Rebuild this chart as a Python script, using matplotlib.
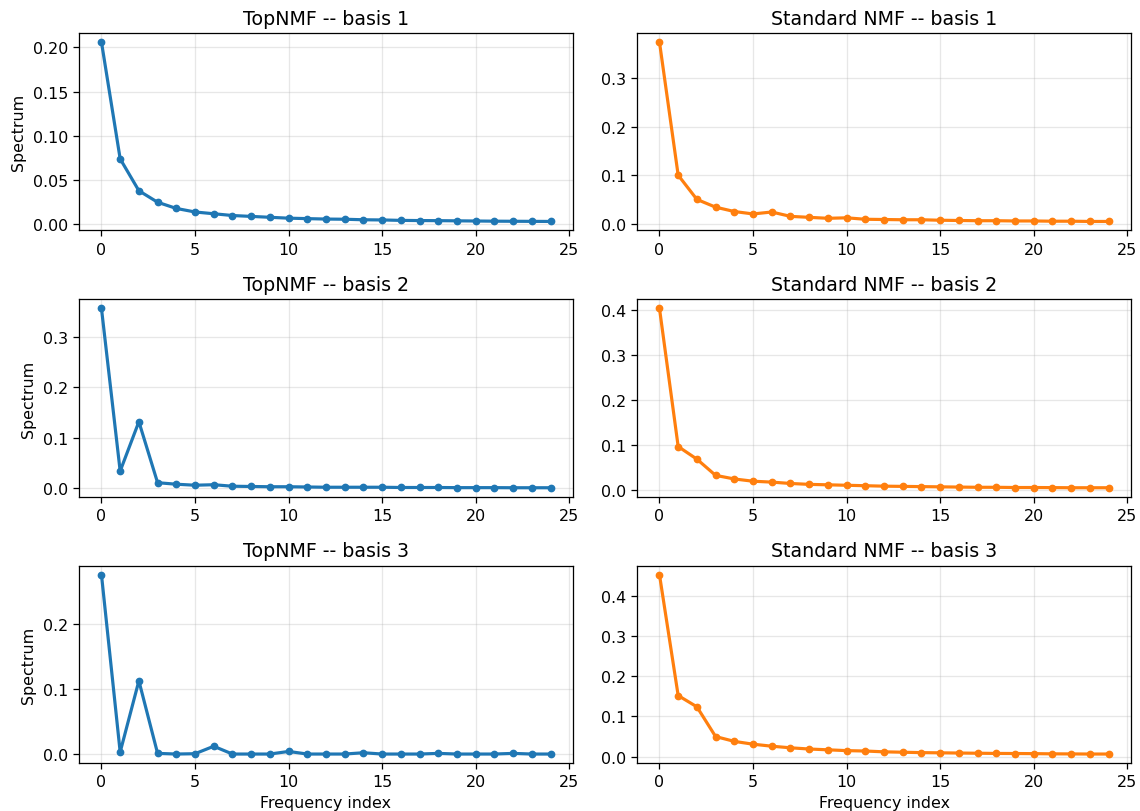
import matplotlib
matplotlib.use("Agg")
import matplotlib.pyplot as plt
import numpy as np

freq = list(range(25))

top_b1 = [0.206, 0.074, 0.038, 0.025, 0.018, 0.014, 0.012, 0.010, 0.009, 0.008, 0.007, 0.0065, 0.006, 0.0058, 0.0052,
          0.005, 0.0045, 0.0043, 0.0042, 0.004, 0.0038, 0.0036, 0.0035, 0.0034, 0.0033]
std_b1 = [0.375, 0.100, 0.050, 0.034, 0.025, 0.020, 0.024, 0.015, 0.013, 0.011, 0.012, 0.009, 0.0085, 0.008, 0.008,
          0.007, 0.0065, 0.006, 0.006, 0.0055, 0.0055, 0.005, 0.005, 0.0045, 0.0045]
top_b2 = [0.357, 0.034, 0.132, 0.011, 0.008, 0.006, 0.007, 0.004, 0.0035, 0.003, 0.003, 0.0025, 0.002, 0.002, 0.002,
          0.002, 0.0015, 0.0015, 0.0015, 0.0012, 0.0012, 0.0012, 0.001, 0.001, 0.001]
std_b2 = [0.403, 0.096, 0.068, 0.032, 0.024, 0.019, 0.017, 0.014, 0.012, 0.011, 0.010, 0.009, 0.008, 0.0075, 0.007,
          0.0065, 0.006, 0.0055, 0.0055, 0.005, 0.005, 0.0048, 0.0045, 0.0045, 0.0045]
top_b3 = [0.277, 0.003, 0.113, 0.001, 0.0, 0.0005, 0.012, 0.0, 0.0, 0.0, 0.004, 0.0, 0.0, 0.0, 0.002,
          0.0, 0.0, 0.0, 0.001, 0.0, 0.0, 0.0, 0.001, 0.0, 0.0]
std_b3 = [0.453, 0.152, 0.124, 0.050, 0.038, 0.031, 0.026, 0.022, 0.019, 0.017, 0.015, 0.014, 0.012, 0.011, 0.010,
          0.0095, 0.009, 0.0085, 0.008, 0.0078, 0.0075, 0.007, 0.0068, 0.0065, 0.0065]

top_series = [top_b1, top_b2, top_b3]
std_series = [std_b1, std_b2, std_b3]

s = 1.14
plt.rcParams.update({
    'axes.linewidth': 0.8 * s,
    'xtick.major.width': 0.8 * s, 'ytick.major.width': 0.8 * s,
    'xtick.major.size': 3.5 * s, 'ytick.major.size': 3.5 * s,
    'xtick.major.pad': 3.5 * s, 'ytick.major.pad': 3.5 * s,
    'grid.linewidth': 0.8 * s,
})

fig, axes = plt.subplots(3, 2, figsize=(11.4, 8.12), dpi=100)
fig.subplots_adjust(left=0.0693, right=0.9921, top=0.9581, bottom=0.0591, wspace=0.1296, hspace=0.349)

for i in range(3):
    ax = axes[i, 0]
    ax.plot(freq, top_series[i], marker='o', markersize=4 * s, linewidth=2 * s, color='#1f77b4')
    ax.set_title(f"TopNMF -- basis {i+1}", fontsize=12 * s, pad=6 * s)
    ax.set_ylabel("Spectrum", fontsize=10 * s, labelpad=4 * s)
    ax.grid(True, alpha=0.3)
    ax2 = axes[i, 1]
    ax2.plot(freq, std_series[i], marker='o', markersize=4 * s, linewidth=2 * s, color='#ff7f0e')
    ax2.set_title(f"Standard NMF -- basis {i+1}", fontsize=12 * s, pad=6 * s)
    ax2.grid(True, alpha=0.3)
    for a in (ax, ax2):
        a.tick_params(labelsize=10 * s)
        a.set_xticks([0, 5, 10, 15, 20, 25])

axes[2, 0].set_xlabel("Frequency index", fontsize=10 * s, labelpad=4 * s)
axes[2, 1].set_xlabel("Frequency index", fontsize=10 * s, labelpad=4 * s)

fig.savefig("out.png", dpi=100)
